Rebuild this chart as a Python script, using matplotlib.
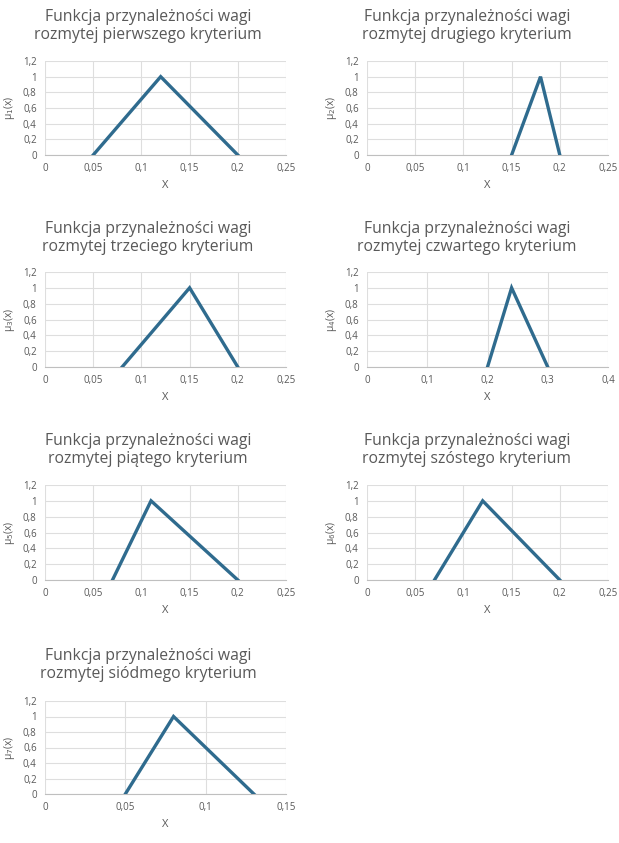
import matplotlib
matplotlib.use("Agg")
import matplotlib.pyplot as plt
import matplotlib.ticker as mtick

# triangular fuzzy weights (l, m, u) for each criterion
ordinals = ["pierwszego", "drugiego", "trzeciego", "czwartego",
            "piątego", "szóstego", "siódmego"]
lower = [0.05, 0.15, 0.08, 0.20, 0.07, 0.07, 0.05]
middle = [0.12, 0.18, 0.15, 0.24, 0.11, 0.12, 0.08]
upper = [0.20, 0.20, 0.20, 0.30, 0.20, 0.20, 0.13]
x_max = [0.25, 0.25, 0.25, 0.4, 0.25, 0.25, 0.15]
x_step = [0.05, 0.05, 0.05, 0.1, 0.05, 0.05, 0.05]
y_ticks = [0, 0.2, 0.4, 0.6, 0.8, 1, 1.2]

W, H = 619, 843
LINE = "#2f6b8e"
TXT = "#595959"
GRID = "#dedede"

plt.rcParams["font.family"] = ["Open Sans", "DejaVu Sans"]

fig = plt.figure(figsize=(W / 100, H / 100), dpi=100)


def comma(v, pos=None):
    s = f"{v:.2f}".rstrip("0").rstrip(".")
    return s.replace(".", ",")


# plot area boxes in pixels: (left, right) and (top, bottom)
col_x = [(45, 286), (367, 608)]
row_y = [(61, 155), (272, 367), (485, 580), (701, 794)]
title_y = [26, 238, 450, 665]
title_x = [148, 467]

for i in range(len(ordinals)):
    r, c = divmod(i, 2)
    x0, x1 = col_x[c]
    y0, y1 = row_y[r]
    ax = fig.add_axes([x0 / W, 1 - y1 / H, (x1 - x0) / W, (y1 - y0) / H])

    ax.plot([lower[i], middle[i], upper[i]], [0, 1, 0],
            color=LINE, linewidth=2.4, solid_joinstyle="miter", zorder=3)

    ax.set_xlim(0, x_max[i])
    ax.set_ylim(0, 1.2)
    ax.xaxis.set_major_locator(mtick.MultipleLocator(x_step[i]))
    ax.set_yticks(y_ticks)
    ax.xaxis.set_major_formatter(mtick.FuncFormatter(comma))
    ax.yaxis.set_major_formatter(mtick.FuncFormatter(comma))
    ax.grid(color=GRID, linewidth=0.8)
    ax.set_axisbelow(True)
    for side in ["top", "right", "left"]:
        ax.spines[side].set_visible(False)
    ax.spines["bottom"].set_color("#bfbfbf")
    ax.tick_params(length=0, labelsize=7, labelcolor=TXT, pad=6)
    ax.set_xlabel("X", fontsize=8, color=TXT, labelpad=4)
    ax.set_ylabel(f"μ$_{i + 1}$(x)", fontsize=7.5, color=TXT, labelpad=4)

    fig.text(title_x[c] / W, 1 - title_y[r] / H,
             f"Funkcja przynależności wagi\nrozmytej {ordinals[i]} kryterium",
             ha="center", va="center", fontsize=11.3, color=TXT,
             linespacing=1.2)

fig.savefig("out.png", dpi=100)
